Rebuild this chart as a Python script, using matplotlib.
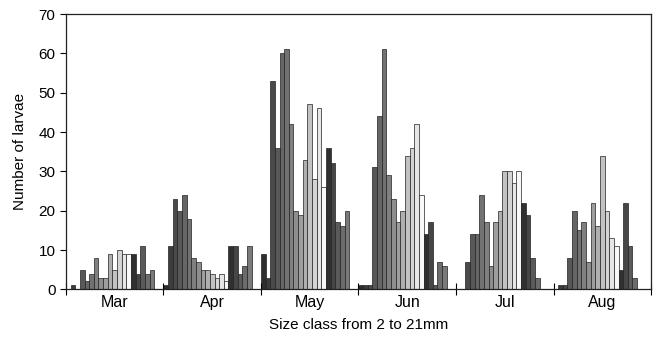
import numpy as np
import matplotlib
matplotlib.use('Agg')
import matplotlib.pyplot as plt

plt.rcParams['font.family'] = ['Liberation Sans', 'DejaVu Sans']

# ---- data: larvae counts per size class (2..21 mm), one list per month ----
months = ['Mar', 'Apr', 'May', 'Jun', 'Jul', 'Aug']
size_classes = list(range(2, 22))

mar = [0, 1, 0, 5, 2, 4, 8, 3, 3, 9, 5, 10, 9, 9, 9, 4, 11, 4, 5, 0]
apr = [1, 11, 23, 20, 24, 18, 8, 7, 5, 5, 4, 3, 4, 2, 11, 11, 4, 6, 11, 0]
may = [9, 3, 53, 36, 60, 61, 42, 20, 19, 33, 47, 28, 46, 26, 36, 32, 17, 16, 20, 0]
jun = [1, 1, 1, 31, 44, 61, 29, 23, 17, 20, 34, 36, 42, 24, 14, 17, 1, 7, 6, 0]
jul = [0, 0, 7, 14, 14, 24, 17, 6, 17, 20, 30, 30, 27, 30, 22, 19, 8, 3, 0, 0]
aug = [0, 1, 1, 8, 20, 15, 17, 7, 22, 16, 34, 20, 13, 11, 5, 22, 11, 3, 0, 0]

counts = np.array([mar, apr, may, jun, jul, aug])

# grey shades, one per size class (dark -> white, then dark again)
shades = ['#2e2e2e', '#3c3c3c', '#4a4a4a', '#585858', '#666666', '#727272',
          '#808080', '#8e8e8e', '#9e9e9e', '#afafaf', '#c2c2c2', '#d4d4d4',
          '#e6e6e6', '#f8f8f8', '#303030', '#464646', '#5a5a5a', '#6c6c6c',
          '#7a7a7a', '#8a8a8a']

fig = plt.figure(figsize=(6.53, 3.42), dpi=100)
ax = fig.add_axes([0.101, 0.154, 0.896, 0.805])

w = 1.0 / 21
x0 = np.arange(len(months))
for j, sc in enumerate(size_classes):
    ax.bar(x0 + j * w, counts[:, j], width=w, align='edge',
           color=shades[j], edgecolor='#222222', linewidth=0.5)

ax.set_xlim(0, len(months))
ax.set_ylim(0, 70)
ax.set_yticks(range(0, 71, 10))
ax.set_xticks(np.arange(len(months) + 1))
ax.set_xticklabels([])
ax.set_xticks(x0 + 0.5, minor=True)
ax.set_xticklabels(months, minor=True, fontsize=11.5)
ax.tick_params(axis='x', which='minor', length=0, pad=4)
ax.tick_params(axis='x', which='major', direction='inout', length=8, width=0.8)
ax.tick_params(axis='y', labelsize=11, length=4, width=0.8)

for s in ax.spines.values():
    s.set_linewidth(0.9)
    s.set_color('#222222')

ax.set_ylabel('Number of larvae', fontsize=11, labelpad=8)
ax.set_xlabel('Size class from 2 to 21mm', fontsize=11, labelpad=6)

plt.savefig('out.png', dpi=100)
